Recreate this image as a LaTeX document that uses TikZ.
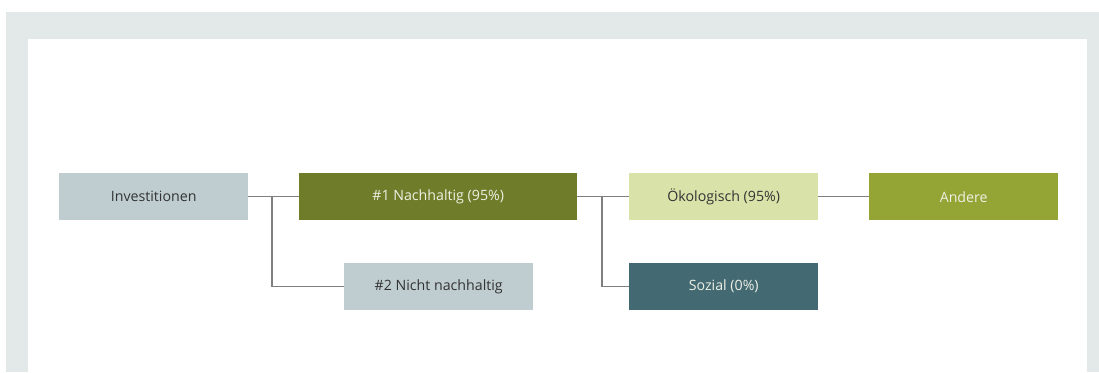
\documentclass[tikz,border=0pt]{standalone}
\usepackage{fontspec}
\setmainfont{Open Sans}
\definecolor{framegray}{HTML}{E3E9E8}
\definecolor{lightbox}{HTML}{BFCDD1}
\definecolor{darkgreen}{HTML}{6F7D2A}
\definecolor{palegreen}{HTML}{D9E3A9}
\definecolor{midgreen}{HTML}{95A535}
\definecolor{tealbox}{HTML}{436973}
\definecolor{darktext}{HTML}{333333}
\definecolor{lighttext}{HTML}{EEF1E4}
\definecolor{linegray}{HTML}{7F7F7F}
\begin{document}
\begin{tikzpicture}[x=1pt,y=-1pt,
  box/.style={rectangle,minimum width=189pt,minimum height=47pt,inner sep=0pt,anchor=north west,font=\fontsize{14.2}{16}\selectfont},
  lightstyle/.style={box,fill=#1,text=darktext},
  darkstyle/.style={box,fill=#1,text=lighttext},
  conn/.style={draw=linegray,line width=1.1pt}]
\useasboundingbox (0,0) rectangle (1099,372);
\fill[white] (0,0) rectangle (1099,372);
\fill[framegray] (6,12) rectangle (1099,372);
\fill[white] (28,39) rectangle (1087,372);
\node[lightstyle=lightbox] (inv) at (59,173) {Investitionen};
\node[darkstyle=darkgreen,minimum width=278pt] (nach) at (299,173) {\#1 Nachhaltig (95\%)};
\node[lightstyle=lightbox] (nicht) at (344,263) {\#2 Nicht nachhaltig};
\node[lightstyle=palegreen] (oeko) at (629,173) {Ökologisch (95\%)};
\node[darkstyle=midgreen] (andere) at (869,173) {Andere};
\node[darkstyle=tealbox] (sozial) at (629,263) {Sozial (0\%)};
\draw[conn] (inv.east) -- (nach.west);
\draw[conn] (inv.east -| 272,0) |- (nicht.west);
\draw[conn] (nach.east) -- (oeko.west);
\draw[conn] (nach.east -| 602,0) |- (sozial.west);
\draw[conn] (oeko.east) -- (andere.west);
\end{tikzpicture}
\end{document}
